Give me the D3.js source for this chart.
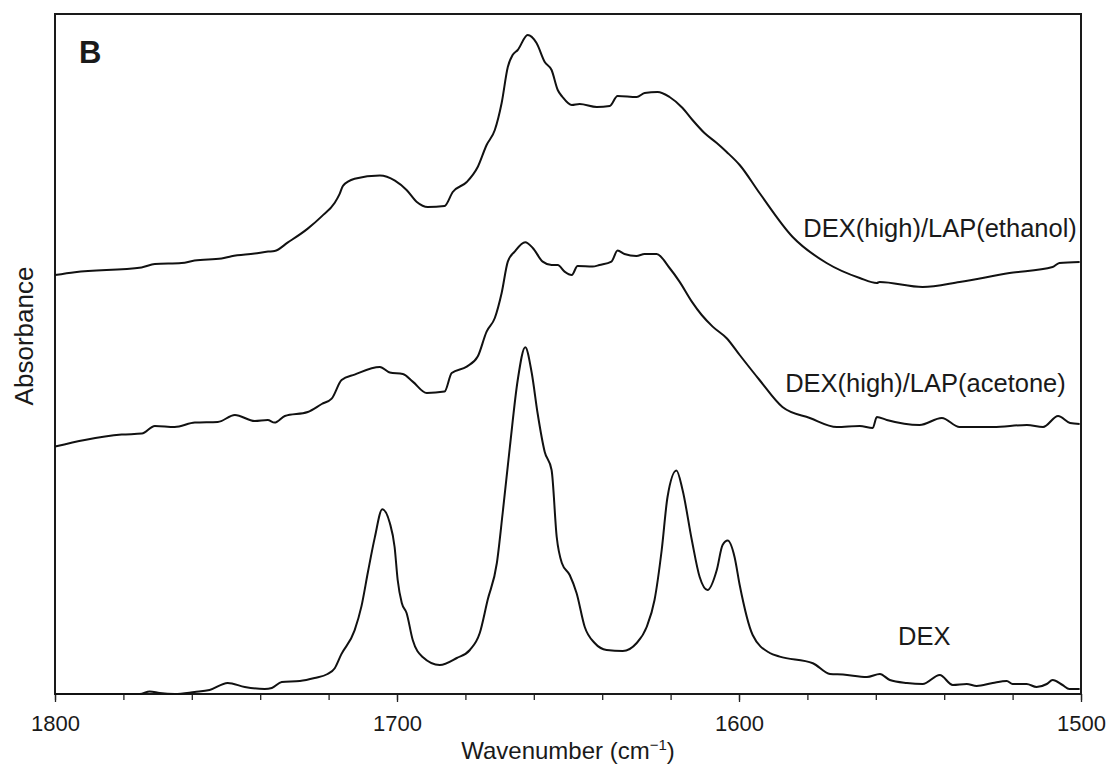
<!DOCTYPE html>
<html>
<head>
<meta charset="utf-8">
<script src="https://cdn.jsdelivr.net/npm/d3@7"></script>
<style>
  body { margin: 0; background: #fff; }
  text { font-family: "Liberation Sans", Arial, sans-serif; fill: #1a1a1a; }
</style>
</head>
<body>
<script>
// FTIR spectra, 1800-1500 cm-1, curves stacked with offsets (a.u.)

// [wavenumber, absorbance]
var ethanol = [[1800,2.095],[1794.2,2.109],[1774.7,2.133],[1770.8,2.150],[1763,2.155],[1759.2,2.167],
  [1751.3,2.177],[1748.4,2.189],[1741.6,2.202],[1737.7,2.212],[1735.8,2.215],[1731.9,2.258],[1726.1,2.327],
  [1722.1,2.387],[1718.2,2.456],[1716.8,2.499],[1715.8,2.541],[1712.4,2.576],[1705,2.593],[1700.6,2.567],
  [1697.2,2.520],[1694.2,2.460],[1691,2.435],[1686.1,2.440],[1683.7,2.510],[1679.6,2.560],[1676.4,2.635],
  [1673.8,2.745],[1671.4,2.820],[1669.4,2.955],[1667.6,3.135],[1666.2,3.195],[1664.7,3.220],[1661.8,3.295],
  [1659.2,3.255],[1656.8,3.160],[1654.8,3.120],[1653,3.020],[1651.6,2.985],[1648.9,2.945],[1646.6,2.950],
  [1641.6,2.935],[1637.8,2.940],[1635.5,2.990],[1629.9,2.985],[1627.6,3.005],[1623.8,3.010],[1620.3,2.985],
  [1616.5,2.930],[1613.6,2.870],[1610.1,2.805],[1606.5,2.755],[1603.6,2.710],[1599.8,2.645],[1594,2.505],
  [1584.3,2.285],[1574.4,2.155],[1564.7,2.080],[1559.7,2.055],[1558.9,2.060],[1546.3,2.035],[1535.5,2.060],
  [1520.9,2.105],[1508.3,2.135],[1506.3,2.155],[1500.4,2.160]];

var acetone = [[1800,1.237],[1791.3,1.270],[1780.5,1.297],[1774.6,1.302],[1770.8,1.340],[1765,1.335],
  [1759.1,1.357],[1752.4,1.360],[1747.4,1.395],[1741.6,1.365],[1737.8,1.370],[1735.8,1.357],[1732.8,1.390],
  [1726.1,1.410],[1722,1.450],[1719.1,1.477],[1716.2,1.570],[1712.4,1.597],[1705,1.635],[1702.1,1.607],
  [1698.3,1.600],[1695.4,1.562],[1691.3,1.505],[1686.1,1.512],[1684,1.605],[1679.6,1.637],[1676.4,1.687],
  [1673.8,1.812],[1671.4,1.880],[1669.4,2.005],[1667.6,2.162],[1665.6,2.212],[1662.5,2.259],[1660.3,2.230],
  [1657.4,2.162],[1654.8,2.145],[1653,2.145],[1651,2.112],[1648.9,2.095],[1647.2,2.140],[1642.8,2.137],
  [1640.8,2.145],[1637.3,2.162],[1635.5,2.217],[1633.5,2.200],[1630,2.190],[1627.6,2.200],[1624.1,2.200],
  [1620.3,2.130],[1617.4,2.062],[1613.8,1.962],[1610.9,1.895],[1607.7,1.837],[1603.6,1.779],[1599.8,1.695],
  [1594,1.570],[1587.3,1.435],[1579.3,1.380],[1571.4,1.335],[1564.7,1.340],[1560.9,1.330],[1559.7,1.385],
  [1556.8,1.370],[1547.2,1.345],[1540.7,1.380],[1535.5,1.335],[1525.7,1.335],[1515.8,1.345],[1511.1,1.335],
  [1506.7,1.390],[1503.2,1.355],[1500.4,1.350]];

var dex = [[1800,0],[1775.2,0],[1772.3,0.013],[1769.4,0.005],[1765,0],[1759.2,0.010],[1754.8,0.020],
  [1749.5,0.055],[1744.5,0.035],[1738.7,0.025],[1736.6,0.030],[1733.7,0.060],[1728.4,0.065],[1724.1,0.080],
  [1720.3,0.100],[1718.2,0.129],[1716.3,0.198],[1712.4,0.318],[1710.4,0.438],[1708.5,0.610],[1706.5,0.782],
  [1704.3,0.924],[1702.1,0.855],[1700.7,0.735],[1699.8,0.570],[1698.6,0.455],[1697.2,0.405],[1695.4,0.270],
  [1692.5,0.185],[1687.5,0.145],[1682.5,0.180],[1678.7,0.220],[1675.8,0.305],[1673.5,0.470],[1670.8,0.655],
  [1669.1,0.905],[1667,1.235],[1664.7,1.570],[1662.5,1.734],[1660.6,1.605],[1658.9,1.405],[1656.8,1.210],
  [1654.8,1.120],[1653.3,0.785],[1651.8,0.655],[1649.5,0.595],[1647.5,0.505],[1645.1,0.335],[1642.2,0.255],
  [1638.7,0.220],[1634,0.215],[1629.9,0.255],[1627,0.335],[1624.7,0.470],[1622.6,0.720],[1620.9,0.985],
  [1618.3,1.117],[1616.5,1.020],[1613.8,0.770],[1611.5,0.585],[1609.2,0.520],[1606.5,0.620],[1604.8,0.745],
  [1603.3,0.767],[1601.3,0.685],[1599.8,0.545],[1596,0.295],[1591,0.205],[1588.1,0.187],[1578.4,0.154],
  [1573.4,0.100],[1569.6,0.097],[1562.6,0.085],[1558.8,0.100],[1555.9,0.070],[1550.9,0.055],[1546.3,0.050],
  [1541.3,0.095],[1537.5,0.045],[1533.4,0.050],[1530.5,0.040],[1525.8,0.055],[1521.7,0.065],[1520,0.050],
  [1515.9,0.050],[1513,0.035],[1510,0.050],[1508.3,0.070],[1505.4,0.045],[1503.4,0.025],[1500.4,0.025]];

var seriesNames = ["DEX(high)/LAP(ethanol)", "DEX(high)/LAP(acetone)", "DEX"];
var majorTicks = [1800, 1700, 1600, 1500];
var minorTicks = d3.range(1800, 1499, -20);

var width = 1111, height = 767;
var margin = {top: 14, right: 30, bottom: 73, left: 55};
var plotW = width - margin.left - margin.right;
var plotH = height - margin.top - margin.bottom;

var svg = d3.select("body").append("svg")
    .attr("width", width)
    .attr("height", height);

var g = svg.append("g")
    .attr("transform", "translate(" + margin.left + "," + margin.top + ")");

var x = d3.scaleLinear().domain([1800, 1500]).range([0, plotW]);
var y = d3.scaleLinear().domain([0, 3.4]).range([plotH, 0]);

//minor ticks first, major ones on top
g.append("g")
    .attr("class", "minor")
    .attr("transform", "translate(0," + plotH + ")")
    .call(d3.axisBottom(x).tickValues(minorTicks).tickSize(6).tickFormat(""))
    .call(function(a){ a.select(".domain").remove(); })
    .selectAll("line").attr("stroke", "#222").attr("stroke-width", 1.3);

g.append("g")
    .attr("class", "major")
    .attr("transform", "translate(0," + plotH + ")")
    .call(d3.axisBottom(x).tickValues(majorTicks).tickSize(8).tickPadding(13).tickFormat(d3.format("d")))
    .call(function(a){ a.select(".domain").remove(); })
    .call(function(a){
      a.selectAll("line").attr("stroke", "#222").attr("stroke-width", 1.3);
      a.selectAll("text").style("font-size", "22px").attr("fill", "#1a1a1a");
    });

//frame
g.append("rect")
    .attr("width", plotW)
    .attr("height", plotH)
    .attr("fill", "none")
    .attr("stroke", "#1a1a1a")
    .attr("stroke-width", 2);

var line = d3.line()
    .x(function(d){ return x(d[0]); })
    .y(function(d){ return y(d[1]); })
    .curve(d3.curveMonotoneX);

g.selectAll(".spec")
    .data([ethanol, acetone, dex])
    .enter().append("path")
    .attr("class", "spec")
    .attr("d", line)
    .attr("fill", "none")
    .attr("stroke", "#111")
    .attr("stroke-width", 2)
    .attr("stroke-linejoin", "round");

//curve labels
var labelPos = [[1581.2, 2.285], [1586.5, 1.51], [1553.5, 0.245]];
g.selectAll(".lbl")
    .data(seriesNames)
    .enter().append("text")
    .attr("class", "lbl")
    .attr("x", function(d, i){ return x(labelPos[i][0]); })
    .attr("y", function(d, i){ return y(labelPos[i][1]); })
    .style("font-size", "25.5px")
    .text(function(d){ return d; });

//panel letter
g.append("text")
    .attr("x", 24)
    .attr("y", 49)
    .style("font-size", "31px")
    .style("font-weight", "bold")
    .attr("fill", "#000")
    .text("B");

//axis titles
var xt = svg.append("text")
    .attr("x", margin.left + plotW / 2)
    .attr("y", 759)
    .attr("text-anchor", "middle")
    .style("font-size", "24px");
xt.append("tspan").text("Wavenumber (cm");
xt.append("tspan").attr("dy", -9).style("font-size", "15px").text("\u22121");
xt.append("tspan").attr("dy", 9).text(")");

svg.append("text")
    .attr("transform", "translate(33,336) rotate(-90)")
    .attr("text-anchor", "middle")
    .style("font-size", "26px")
    .text("Absorbance");
</script>
</body>
</html>
